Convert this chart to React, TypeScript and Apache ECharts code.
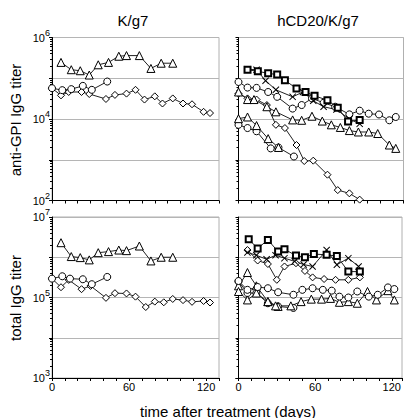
import React, { useEffect, useRef } from "react";
import * as echarts from "echarts";

// ---------- data (day, titer) ----------
// Top-left: anti-GPI IgG, K/g7
const tlTriangle = [[7,245000],[15,162000],[22,153000],[29,120000],[36,214000],[44,245000],[52,347000],[58,360000],[68,360000],[77,174000],[85,234000],[94,234000]];
const tlCircle = [[0,57000],[8,51000],[15,54000],[24,65000],[31,52000],[43,83000]];
const tlDiamond = [[0,57000],[7,38000],[13,46000],[23,46000],[29,41000],[42,31000],[49,39000],[58,42000],[65,52000],[72,30000],[80,36000],[86,24000],[94,32000],[102,24000],[109,23000],[118,15000],[123,14000]];

// Bottom-left: total IgG, K/g7
const blTriangle = [[7,2300000],[15,1040000],[22,980000],[29,860000],[36,1300000],[44,1380000],[52,1510000],[58,1460000],[68,1900000],[77,810000],[85,1000000],[94,1000000]];
const blCircle = [[0,294000],[8,337000],[14,294000],[24,284000],[31,214000],[43,324000]];
const blDiamond = [[0,294000],[7,180000],[13,274000],[23,161000],[30,194000],[42,98000],[49,128000],[58,126000],[65,105000],[73,58000],[80,79000],[87,76000],[94,92000],[102,86000],[109,78000],[118,82000],[123,75000]];

// Top-right: anti-GPI IgG, hCD20/K/g7
const trSquare = [[7,162000],[15,148000],[23,132000],[30,123000],[36,89000],[45,56000],[52,46000],[59,37000],[69,29000],[77,19000],[85,8700],[94,9500]];
const trCross = [[7,166000],[14,162000],[21,87000],[29,52000],[42,35000],[50,46000],[58,28000],[66,20000],[76,17000],[86,10000],[94,7600]];
const trCircleA = [[0,81000],[7,59000],[14,58000],[23,46000],[30,35000],[42,18000],[49,22000],[57,32000],[66,25000],[75,20000],[86,13000],[94,16000],[101,13500],[109,12900],[117,9300],[122,11200]];
const trTriangleA = [[0,46000],[7,30000],[12,30000],[22,20000],[29,15000],[42,9500],[49,9300],[57,11700],[65,8900],[72,7200],[79,6200],[86,5200],[93,4800],[101,4800],[108,4400],[117,2300],[122,1900]];
const trDiamond = [[0,42000],[7,32000],[14,30000],[22,22000],[29,7200],[36,6000],[45,2300],[51,930],[58,950],[69,430],[77,180],[86,150],[94,105]];
const trTriangleB = [[0,10200],[7,11200],[14,6900],[23,3300],[31,2000]];
const trCircleB = [[0,7200],[7,6000],[14,5000],[25,1900],[31,2000],[43,1200]];

// Bottom-right: total IgG, hCD20/K/g7
const brSquare = [[8,2800000],[15,1660000],[23,2700000],[31,1380000],[36,1580000],[45,1100000],[52,1000000],[59,1200000],[69,1150000],[77,1070000],[86,440000],[95,440000]];
const brCross = [[7,1320000],[14,1120000],[22,890000],[29,1120000],[36,950000],[44,790000],[51,660000],[58,590000],[69,1510000],[77,650000],[86,950000],[94,590000]];
const brDiamond = [[7,1510000],[15,830000],[23,680000],[30,275000],[36,590000],[45,710000],[52,457000],[58,316000],[67,288000],[76,275000],[86,275000],[95,316000]];
const brCircleA = [[0,257000],[7,155000],[15,182000],[23,170000],[31,135000],[43,117000],[50,155000],[58,170000],[66,155000],[73,148000],[79,105000],[86,100000],[93,141000],[102,105000],[109,117000],[117,178000],[122,162000]];
const brTriangleA = [[0,141000],[7,87000],[14,129000],[23,79000],[29,62000],[41,62000],[49,79000],[57,91000],[65,91000],[72,95000],[79,76000],[86,79000],[93,72000],[101,141000],[108,87000],[117,148000],[122,87000]];
const brTriangleB = [[0,195000],[7,417000],[14,195000],[23,79000],[31,60000]];
const brCircleB = [[0,251000],[7,129000],[14,129000],[23,72000],[31,60000],[43,55000]];

const panelTitles = ["K/g7", "hCD20/K/g7"];
const yNames = ["anti-GPI IgG titer", "total IgG titer"];
const xName = "time after treatment (days)";
const xLabels = [0, 60, 120];

const FONT = "'Liberation Sans', Arial, sans-serif";
const CROSS = "path://M0,1L1,0L5,4L9,0L10,1L6,5L10,9L9,10L5,6L1,10L0,9L4,5Z";

const symStyle: Record<string, any> = {
  triangle: { symbol: "triangle", size: 8, fill: "#fff", bw: 1 },
  circle: { symbol: "circle", size: 7, fill: "#fff", bw: 1 },
  diamond: { symbol: "diamond", size: 7, fill: "#fff", bw: 1 },
  square: { symbol: "rect", size: 6, fill: "#fff", bw: 2 },
  cross: { symbol: CROSS, size: 7, fill: "#000", bw: 0 },
};

function mk(data: number[][], kind: string, idx: number) {
  const s = symStyle[kind];
  return {
    type: "line",
    data,
    xAxisIndex: idx,
    yAxisIndex: idx,
    symbol: s.symbol,
    symbolSize: s.size,
    showSymbol: true,
    lineStyle: { color: "#222", width: 1 },
    itemStyle: { color: s.fill, borderColor: "#000", borderWidth: s.bw },
    z: kind === "square" ? 4 : 3,
  };
}

export default function App() {
  const ref = useRef<HTMLDivElement>(null);
  useEffect(() => {
    if (!ref.current) return;
    const chart = echarts.init(ref.current, null, { renderer: "svg" });
    const grids = [
      { left: 52, top: 37.5, width: 167, height: 163 },
      { left: 238.5, top: 37.5, width: 165, height: 163 },
      { left: 52, top: 217, width: 167, height: 161 },
      { left: 238.5, top: 217, width: 165, height: 161 },
    ].map((g) => ({ ...g, show: true, borderColor: "#b0b0b0", borderWidth: 1, backgroundColor: "transparent" }));

    const xAxes = [0, 1, 2, 3].map((i) => ({
      type: "value",
      gridIndex: i,
      min: 0,
      max: i % 2 === 0 ? 130 : 128,
      interval: 10,
      axisLine: { show: true, lineStyle: { color: "#000", width: 1 } },
      axisTick: { show: true, length: 3, lineStyle: { color: "#000" } },
      splitLine: { show: false },
      axisLabel: {
        show: i >= 2,
        margin: 3,
        color: "#000",
        fontSize: 11,
        fontFamily: FONT,
        formatter: (v: number) => (xLabels.includes(v) ? String(v) : ""),
      },
    }));

    const yAxes = [0, 1, 2, 3].map((i) => {
      const top = i < 2;
      return {
        type: "log",
        logBase: 10,
        gridIndex: i,
        min: top ? 100 : 1000,
        max: top ? 1e6 : 1e7,
        splitNumber: 4,
        axisLine: { show: true, lineStyle: { color: "#000", width: 1 } },
        axisTick: { show: true, length: 3, lineStyle: { color: "#000" } },
        minorTick: { show: true, splitNumber: 9, length: 2, lineStyle: { color: "#000" } },
        splitLine: { show: true, lineStyle: { color: "#b5b5b5", width: 1 } },
        axisLabel: {
          show: i % 2 === 0,
          margin: 2,
          color: "#000",
          fontFamily: FONT,
          formatter: (v: number) => {
            const e = Math.round(Math.log10(v));
            const ok = top ? e % 2 === 0 : e % 2 === 1;
            return ok ? `{b|10}{s|${e}}` : "";
          },
          rich: {
            b: { fontSize: 11, fontFamily: FONT, color: "#000" },
            s: { fontSize: 9, fontFamily: FONT, color: "#000", padding: [0, 0, 10, 0] },
          },
        },
      };
    });

    const series = [
      mk(tlDiamond, "diamond", 0),
      mk(tlCircle, "circle", 0),
      mk(tlTriangle, "triangle", 0),
      mk(trDiamond, "diamond", 1),
      mk(trCircleB, "circle", 1),
      mk(trTriangleB, "triangle", 1),
      mk(trTriangleA, "triangle", 1),
      mk(trCircleA, "circle", 1),
      mk(trCross, "cross", 1),
      mk(trSquare, "square", 1),
      mk(blDiamond, "diamond", 2),
      mk(blCircle, "circle", 2),
      mk(blTriangle, "triangle", 2),
      mk(brCircleB, "circle", 3),
      mk(brTriangleB, "triangle", 3),
      mk(brTriangleA, "triangle", 3),
      mk(brCircleA, "circle", 3),
      mk(brDiamond, "diamond", 3),
      mk(brCross, "cross", 3),
      mk(brSquare, "square", 3),
    ];

    const txt = (text: string, x: number, y: number, rot = 0) => ({
      type: "text",
      x,
      y,
      rotation: rot,
      style: { text, font: `15px ${FONT}`, fill: "#000", textAlign: "center", textVerticalAlign: "middle" },
    });

    chart.setOption({
      animation: false,
      backgroundColor: "#fff",
      grid: grids,
      xAxis: xAxes,
      yAxis: yAxes,
      series,
      graphic: [
        txt(panelTitles[0], 133, 20),
        txt(panelTitles[1], 318, 20),
        txt(yNames[0], 15, 120, Math.PI / 2),
        txt(yNames[1], 15, 298, Math.PI / 2),
        txt(xName, 228, 411),
      ],
    });
    return () => chart.dispose();
  }, []);
  return <div ref={ref} style={{ position: "absolute", left: 0, top: 0, width: 405, height: 418 }} />;
}
